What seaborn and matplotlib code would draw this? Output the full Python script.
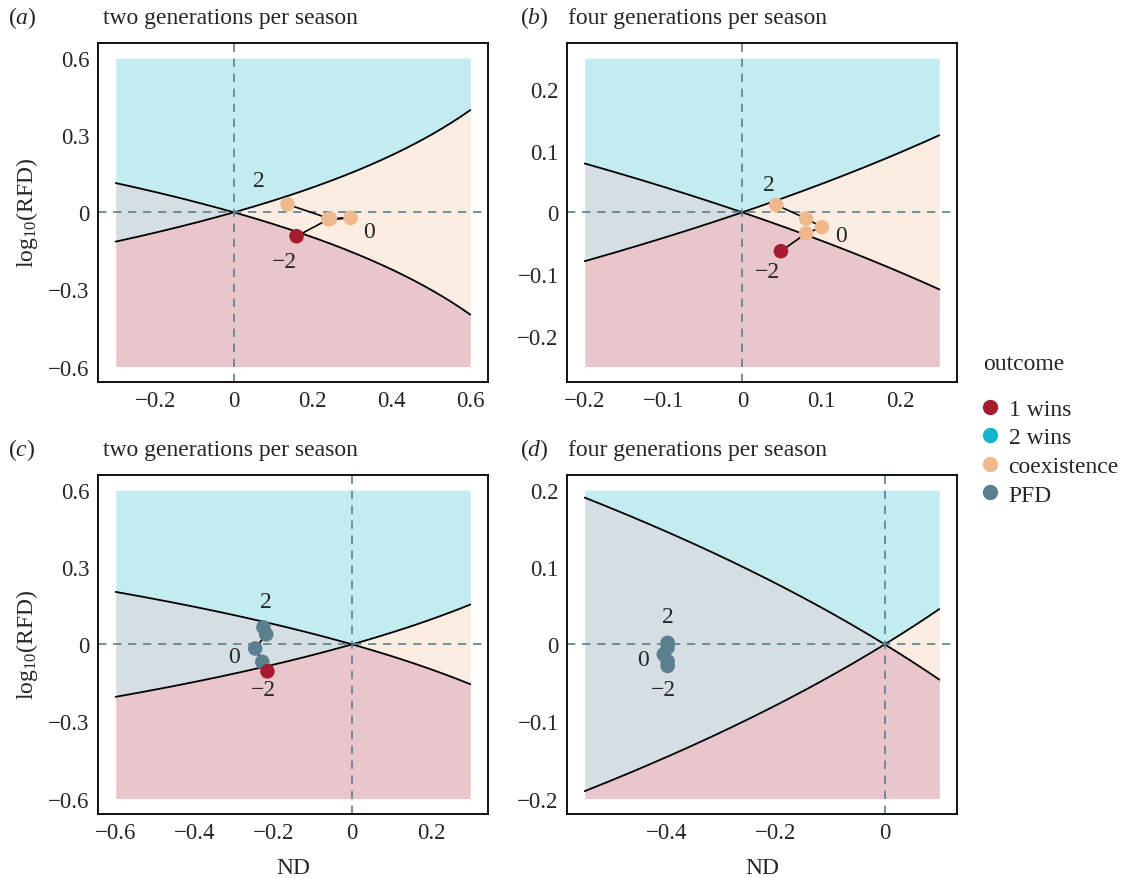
import numpy as np
import pandas as pd
import matplotlib.pyplot as plt
from matplotlib.lines import Line2D
import seaborn as sns

# outcome colours
outcomes = ["1 wins", "2 wins", "coexistence", "PFD"]
outcome_colors = ["#A51C30", "#12B5CB", "#F0B98D", "#5B7F8E"]
palette = dict(zip(outcomes, outcome_colors))

# panel set-up
panel_tags = ["a", "b", "c", "d"]
panel_titles = ["two generations per season", "four generations per season",
                "two generations per season", "four generations per season"]
nd_ranges = [(-0.3, 0.6), (-0.2, 0.25), (-0.6, 0.3), (-0.55, 0.1)]
rfd_ranges = [(-0.6, 0.6), (-0.25, 0.25), (-0.6, 0.6), (-0.2, 0.2)]
x_ticks = [[-0.2, 0, 0.2, 0.4, 0.6], [-0.2, -0.1, 0, 0.1, 0.2],
           [-0.6, -0.4, -0.2, 0, 0.2], [-0.4, -0.2, 0]]
y_ticks = [[-0.6, -0.3, 0, 0.3, 0.6], [-0.2, -0.1, 0, 0.1, 0.2],
           [-0.6, -0.3, 0, 0.3, 0.6], [-0.2, -0.1, 0, 0.1, 0.2]]

# trajectories (parameter 2, 1, 0, -1, -2)
traj_nd = [
    [0.136, 0.244, 0.296, 0.240, 0.159],
    [0.043, 0.081, 0.101, 0.081, 0.049],
    [-0.225, -0.218, -0.246, -0.228, -0.215],
    [-0.398, -0.398, -0.405, -0.398, -0.398],
]
traj_rfd = [
    [0.031, -0.025, -0.022, -0.027, -0.093],
    [0.012, -0.010, -0.024, -0.034, -0.063],
    [0.066, 0.039, -0.016, -0.068, -0.105],
    [0.002, -0.004, -0.013, -0.022, -0.028],
]
traj_outcome = [
    ["coexistence", "coexistence", "coexistence", "coexistence", "1 wins"],
    ["coexistence", "coexistence", "coexistence", "coexistence", "1 wins"],
    ["PFD", "PFD", "PFD", "PFD", "1 wins"],
    ["PFD", "PFD", "PFD", "PFD", "PFD"],
]
# labels "2", "0", "-2" positions
label_text = ["2", "0", "\u22122"]
label_nd = [[0.064, 0.344, 0.129], [0.034, 0.125, 0.032],
            [-0.22, -0.30, -0.225], [-0.398, -0.444, -0.406]]
label_rfd = [[0.125, -0.074, -0.19], [0.045, -0.037, -0.096],
             [0.168, -0.047, -0.176], [0.036, -0.019, -0.058]]

sns.set_theme(style="white")
plt.rcParams['font.family'] = ['Liberation Serif', 'DejaVu Serif']
plt.rcParams['mathtext.fontset'] = 'custom'
plt.rcParams['mathtext.rm'] = 'Liberation Serif'
plt.rcParams['mathtext.it'] = 'Liberation Serif:italic'

FS = 17
TFS = 16.5
fig = plt.figure(figsize=(11.25, 8.79), dpi=100)
lefts = [0.0871, 0.504, 0.0871, 0.504]
bottoms = [0.5643, 0.5643, 0.0728, 0.0728]
tag_x = [0.007, 0.462, 0.007, 0.462]
title_x = [0.0916, 0.505, 0.0916, 0.505]
W, H = 0.3467, 0.386

def fmt(v):
    if v == 0:
        return "0"
    s = f"{v:g}"
    return s.replace("-", "\u2212")

for i in range(4):
    ax = fig.add_axes([lefts[i], bottoms[i], W, H])
    x0, x1 = nd_ranges[i]
    y0, y1 = rfd_ranges[i]
    nd = np.linspace(x0, x1, 400)
    b1 = np.log10(1 - nd)
    b2 = -np.log10(1 - nd)
    upper = np.maximum(b1, b2)
    lower = np.minimum(b1, b2)
    a = 0.25
    ax.fill_between(nd, upper, y1, color=palette["2 wins"], alpha=a, lw=0)
    ax.fill_between(nd, y0, lower, color=palette["1 wins"], alpha=a, lw=0)
    ax.fill_between(nd, lower, upper, where=nd >= 0, color=palette["coexistence"],
                    alpha=a, lw=0, interpolate=True)
    ax.fill_between(nd, lower, upper, where=nd <= 0, color=palette["PFD"],
                    alpha=a, lw=0, interpolate=True)
    curves = pd.DataFrame({"ND": np.concatenate([nd, nd]),
                           "RFD": np.concatenate([b1, b2]),
                           "which": ["b1"] * len(nd) + ["b2"] * len(nd)})
    sns.lineplot(data=curves, x="ND", y="RFD", units="which", estimator=None,
                 color="black", lw=1.3, ax=ax, sort=False)
    ax.axhline(0, color="#5B7F8E", ls=(0, (5, 4)), lw=1.2)
    ax.axvline(0, color="#5B7F8E", ls=(0, (5, 4)), lw=1.2)

    df = pd.DataFrame({"ND": traj_nd[i], "RFD": traj_rfd[i], "outcome": traj_outcome[i]})
    sns.lineplot(data=df, x="ND", y="RFD", color="black", lw=1.2, sort=False,
                 estimator=None, ax=ax)
    sns.scatterplot(data=df, x="ND", y="RFD", hue="outcome", palette=palette,
                    s=110, linewidth=0, ax=ax, legend=False, zorder=5)
    for t, lx, ly in zip(label_text, label_nd[i], label_rfd[i]):
        ax.text(lx, ly, t, fontsize=FS, ha="center", va="center")

    dx = (x1 - x0) * 0.05
    dy = (y1 - y0) * 0.05
    ax.set_xlim(x0 - dx, x1 + dx)
    ax.set_ylim(y0 - dy, y1 + dy)
    ax.set_xticks(x_ticks[i])
    ax.set_xticklabels([fmt(v) for v in x_ticks[i]], fontsize=TFS)
    ax.set_yticks(y_ticks[i])
    ax.set_yticklabels([fmt(v) for v in y_ticks[i]], fontsize=TFS)
    ax.tick_params(length=0, pad=6)
    for sp in ax.spines.values():
        sp.set_color("black")
        sp.set_linewidth(1.3)
    ax.set_xlabel("ND" if i >= 2 else "", fontsize=FS, labelpad=10)
    ax.set_ylabel("log$_{10}$(RFD)" if i % 2 == 0 else "", fontsize=FS, labelpad=6)

    ty = bottoms[i] + H + 0.029
    fig.text(tag_x[i], ty, f"($\\it{{{panel_tags[i]}}}$)", fontsize=FS, va="center")
    fig.text(title_x[i], ty, panel_titles[i], fontsize=FS, va="center")

# legend: title drawn separately so the gap to the entries matches
fig.text(983 / 1125, 1 - 365 / 879, "outcome", fontsize=FS, va="center", ha="left")
handles = [Line2D([], [], marker="o", ls="", color=c, markersize=10) for c in outcome_colors]
fig.legend(handles, outcomes, loc="center left",
           bbox_to_anchor=(0.8545, 1 - 453 / 879), frameon=False, fontsize=FS,
           handlelength=0.6, handletextpad=0.5, labelspacing=0.3)

fig.savefig("out.png", dpi=100)
